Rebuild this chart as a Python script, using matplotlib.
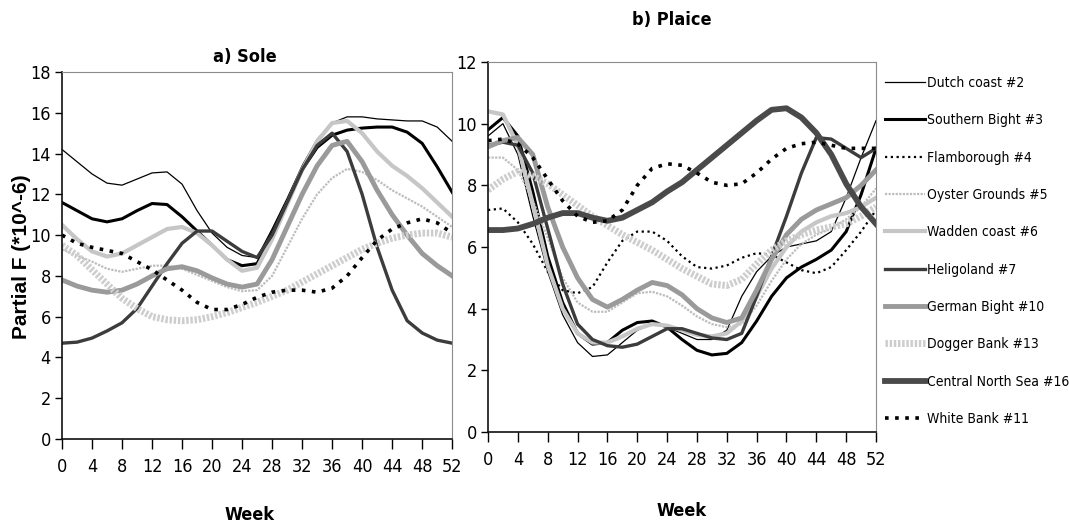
#!/usr/bin/env python3
"""Partial F by week for sole and plaice, per area."""
#=========================================================================#
# Python packages                                                         #
#=========================================================================#
import matplotlib
matplotlib.use('Agg')
import matplotlib.pyplot as plt
from matplotlib import font_manager as fm

#=========================================================================#
# Data                                           #
#=========================================================================#
weeks       = list(range(0, 53, 2))
xticks      = list(range(0, 53, 4))

areas       = ['Dutch coast #2', 'Southern Bight #3', 'Flamborough #4',
               'Oyster Grounds #5', 'Wadden coast #6', 'Heligoland #7',
               'German Bight #10', 'Dogger Bank #13',
               'Central North Sea #16', 'White Bank #11']

# Sole
dutch_sole      = [14.2, 13.6, 13.0, 12.55, 12.45, 12.75, 13.05, 13.1, 12.5,
                   11.2, 10.1, 9.4, 9.0, 8.9, 10.3, 11.8, 13.4, 14.7, 15.5,
                   15.8, 15.8, 15.7, 15.65, 15.6, 15.6, 15.3, 14.6]
southern_sole   = [11.6, 11.2, 10.8, 10.65, 10.8, 11.2, 11.55, 11.5, 10.9,
                   10.2, 9.5, 8.8, 8.5, 8.6, 10.1, 11.55, 13.2, 14.3, 14.9,
                   15.15, 15.25, 15.3, 15.3, 15.05, 14.5, 13.35, 12.1]
oyster_sole     = [9.3, 9.0, 8.7, 8.35, 8.2, 8.35, 8.5, 8.5, 8.35, 8.05,
                   7.75, 7.45, 7.25, 7.3, 8.0, 9.4, 10.8, 12.0, 12.8, 13.25,
                   13.1, 12.7, 12.2, 11.8, 11.4, 10.9, 10.4]
wadden_sole     = [10.5, 9.8, 9.2, 8.95, 9.1, 9.5, 9.9, 10.3, 10.4, 10.1,
                   9.5, 8.8, 8.25, 8.4, 9.8, 11.5, 13.2, 14.6, 15.5, 15.6,
                   15.0, 14.1, 13.4, 12.9, 12.3, 11.6, 10.9]
heligoland_sole = [4.7, 4.75, 4.95, 5.3, 5.7, 6.4, 7.5, 8.6, 9.6, 10.2,
                   10.2, 9.7, 9.2, 8.9, 10.0, 11.6, 13.2, 14.4, 15.0, 14.1,
                   12.0, 9.4, 7.3, 5.8, 5.2, 4.85, 4.7]
german_sole     = [7.8, 7.5, 7.3, 7.2, 7.3, 7.6, 8.0, 8.35, 8.45, 8.25,
                   7.9, 7.6, 7.45, 7.6, 8.8, 10.4, 12.0, 13.4, 14.4, 14.6,
                   13.6, 12.2, 11.0, 10.0, 9.1, 8.5, 8.0]
dogger_sole     = [9.5, 9.0, 8.3, 7.6, 6.9, 6.4, 6.0, 5.85, 5.8, 5.85,
                   6.0, 6.2, 6.45, 6.7, 7.0, 7.3, 7.7, 8.1, 8.5, 8.9, 9.3,
                   9.6, 9.85, 10.0, 10.1, 10.1, 9.9]
whitebank_sole  = [10.0, 9.6, 9.4, 9.25, 9.1, 8.7, 8.3, 7.8, 7.3, 6.7,
                   6.35, 6.35, 6.6, 6.95, 7.2, 7.3, 7.3, 7.2, 7.4, 8.0, 8.9,
                   9.75, 10.3, 10.6, 10.8, 10.6, 10.1]

# Plaice
dutch_plaice      = [9.6, 10.0, 9.0, 7.0, 5.2, 3.8, 2.9, 2.45, 2.5, 2.9,
                     3.3, 3.5, 3.4, 3.2, 3.0, 3.0, 3.3, 4.4, 5.2, 5.7, 6.0,
                     6.1, 6.2, 6.5, 7.6, 8.9, 10.1]
southern_plaice   = [9.8, 10.2, 9.6, 7.8, 5.7, 4.2, 3.2, 2.85, 2.9, 3.3,
                     3.55, 3.6, 3.4, 3.0, 2.65, 2.5, 2.55, 2.9, 3.6, 4.4,
                     5.0, 5.35, 5.6, 5.9, 6.5, 7.7, 9.2]
flamborough_plaice = [7.2, 7.25, 6.8, 6.1, 5.2, 4.6, 4.5, 4.7, 5.5, 6.2,
                      6.5, 6.5, 6.2, 5.7, 5.35, 5.3, 5.4, 5.65, 5.8, 5.75,
                      5.5, 5.25, 5.15, 5.35, 5.9, 6.5, 7.2]
oyster_plaice     = [8.9, 8.9, 8.5, 7.5, 6.3, 5.0, 4.2, 3.9, 3.9, 4.2, 4.5,
                     4.55, 4.4, 4.1, 3.75, 3.5, 3.4, 3.5, 4.1, 4.9, 5.6, 6.1,
                     6.4, 6.6, 6.9, 7.3, 7.9]
wadden_plaice     = [10.4, 10.3, 9.3, 7.4, 5.4, 4.0, 3.2, 2.9, 2.9, 3.1,
                     3.35, 3.5, 3.45, 3.3, 3.15, 3.1, 3.2, 3.6, 4.4, 5.3,
                     6.0, 6.5, 6.8, 7.0, 7.1, 7.3, 7.6]
heligoland_plaice = [9.3, 9.4, 9.3, 8.4, 6.6, 4.8, 3.5, 3.0, 2.8, 2.75,
                     2.85, 3.1, 3.35, 3.35, 3.2, 3.05, 3.0, 3.2, 4.4, 5.7,
                     7.0, 8.4, 9.55, 9.5, 9.2, 8.9, 9.2]
german_plaice     = [9.25, 9.45, 9.55, 9.0, 7.3, 6.0, 5.0, 4.3, 4.05, 4.3,
                     4.6, 4.85, 4.75, 4.45, 4.0, 3.7, 3.55, 3.7, 4.6, 5.6,
                     6.4, 6.9, 7.2, 7.4, 7.6, 8.0, 8.5]
dogger_plaice     = [7.85, 8.2, 8.45, 8.3, 8.05, 7.7, 7.35, 7.0, 6.7, 6.4,
                     6.15, 5.9, 5.6, 5.3, 5.05, 4.8, 4.75, 4.95, 5.45, 5.9,
                     6.2, 6.4, 6.55, 6.65, 6.75, 7.0, 7.3]
central_plaice    = [6.55, 6.55, 6.6, 6.75, 6.95, 7.1, 7.1, 6.95, 6.85,
                     6.95, 7.2, 7.45, 7.8, 8.1, 8.5, 8.9, 9.3, 9.7, 10.1,
                     10.45, 10.5, 10.2, 9.7, 9.0, 8.05, 7.3, 6.75]
whitebank_plaice  = [9.45, 9.5, 9.35, 8.9, 8.2, 7.5, 7.0, 6.8, 6.85, 7.2,
                     8.0, 8.55, 8.7, 8.65, 8.4, 8.1, 8.0, 8.05, 8.4, 8.85,
                     9.2, 9.35, 9.4, 9.3, 9.2, 9.2, 9.2]

sole   = [dutch_sole, southern_sole, None, oyster_sole, wadden_sole,
          heligoland_sole, german_sole, dogger_sole, None, whitebank_sole]
plaice = [dutch_plaice, southern_plaice, flamborough_plaice, oyster_plaice,
          wadden_plaice, heligoland_plaice, german_plaice, dogger_plaice,
          central_plaice, whitebank_plaice]

#=========================================================================#
# Line styles (color, width, dashes)                                      #
#=========================================================================#
styles = [
    ('#000000', 0.9, '-'),
    ('#000000', 2.2, '-'),
    ('#000000', 1.6, (0, (1, 1.6))),
    ('#bdbdbd', 1.6, (0, (1, 0.6))),
    ('#c6c6c6', 3.0, '-'),
    ('#3c3c3c', 2.4, '-'),
    ('#9a9a9a', 3.5, '-'),
    ('#cdcdcd', 5.0, (0, (0.35, 0.25))),
    ('#4a4a4a', 4.2, '-'),
    ('#000000', 2.6, (0, (1, 1.8))),
]

#=========================================================================#
# Fonts: look for an installed narrow face, else fall back                #
#=========================================================================#
def narrow_font(bold):
    for f in fm.fontManager.ttflist:
        tag = (f.fname + ' ' + f.name + ' ' + str(f.stretch)).lower()
        if not ('condensed' in tag or 'narrow' in tag):
            continue
        if 'semi' in tag or 'extra' in tag or 'italic' in tag \
                or f.style != 'normal':
            continue
        w = f.weight if isinstance(f.weight, int) else \
            {'normal': 400, 'regular': 400, 'bold': 700}.get(f.weight, 400)
        if bold and w == 700:
            return fm.FontProperties(fname=f.fname)
        if not bold and w == 400:
            return fm.FontProperties(fname=f.fname)
    return None


fp_reg  = narrow_font(False)
fp_bold = narrow_font(True)
scale   = 1.0
if fp_reg is None:
    fp_reg = fm.FontProperties(family='Liberation Sans')
    scale  = 0.8
if fp_bold is None:
    fp_bold = fm.FontProperties(family='Liberation Sans', weight='bold')


def fprop(base, size):
    p = base.copy()
    p.set_size(size)
    return p


#=========================================================================#
# Figure                                                                  #
#=========================================================================#
fig = plt.figure(figsize=(10.69, 5.26), dpi=100)
ax1 = fig.add_axes([0.058, 0.1654, 0.365, 0.6977])
ax2 = fig.add_axes([0.4565, 0.1787, 0.363, 0.7034])


def draw(ax, series, ymax, ystep):
    handles = []
    for name, vals, (col, lw, ls) in zip(areas, series, styles):
        if vals is None:
            continue
        h, = ax.plot(weeks, vals, color=col, lw=lw, ls=ls,
                     dash_capstyle='butt', solid_joinstyle='round',
                     label=name)
        handles.append(h)
    ax.set_xlim(0, 52)
    ax.set_ylim(0, ymax)
    ax.set_xticks(xticks)
    ax.set_yticks(list(range(0, ymax + 1, ystep)))
    ax.tick_params(axis='x', direction='out', length=7, width=1, pad=7)
    ax.tick_params(axis='y', direction='out', length=5, width=1, pad=3)
    for lab in ax.get_xticklabels() + ax.get_yticklabels():
        lab.set_fontproperties(fprop(fp_reg, 13 * scale))
    for side in ['top', 'right']:
        ax.spines[side].set_color('#8c8c8c')
    for side in ['left', 'bottom']:
        ax.spines[side].set_color('#111111')
        ax.spines[side].set_linewidth(1.2)
    return handles


draw(ax1, sole, 18, 2)
handles = draw(ax2, plaice, 12, 2)

#---------------------------------------------------------------------#
# Labels and titles                                                   #
#---------------------------------------------------------------------#
tb = fprop(fp_bold, 13 * scale)
fig.text(245/1069, 1 - 57/526, 'a) Sole', ha='center', va='center',
         fontproperties=tb)
fig.text(672/1069, 1 - 20/526, 'b) Plaice', ha='center', va='center',
         fontproperties=tb)
fig.text(250/1069, 1 - 515/526, 'Week', ha='center', va='center',
         fontproperties=tb)
fig.text(682/1069, 1 - 511/526, 'Week', ha='center', va='center',
         fontproperties=tb)
fig.text(22/1069, 1 - 257/526, 'Partial F (*10^-6)', ha='center',
         va='center', rotation=90, fontsize=15, fontweight='bold',
         family=['Liberation Sans', 'DejaVu Sans'])

#---------------------------------------------------------------------#
# Legend                                                              #
#---------------------------------------------------------------------#
lsize = 10 * scale
fig.legend(handles, areas, loc='upper left',
           bbox_to_anchor=(878/1069, 1 - 69/526), frameon=False,
           borderpad=0, handlelength=2.9, handletextpad=0.1,
           labelspacing=1.68, prop=fprop(fp_reg, lsize))

fig.savefig('out.png', dpi=100)
